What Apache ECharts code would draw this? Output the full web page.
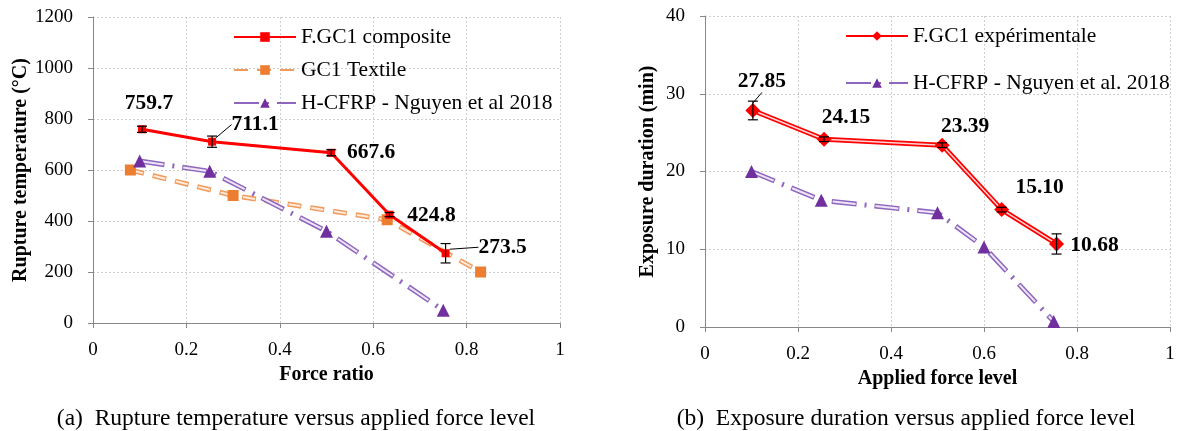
<!DOCTYPE html>
<html>
<head>
<meta charset="utf-8">
<script src="https://cdn.jsdelivr.net/npm/echarts@6/dist/echarts.min.js"></script>
<style>
  html, body { margin: 0; padding: 0; background: #fff; }
  #chart { width: 1183px; height: 431px; }
</style>
</head>
<body>
<div id="chart"></div>
<script>
// (a) rupture temperature vs force ratio
const compForce = [0.105, 0.255, 0.51, 0.635, 0.755];
const compTemp = [759.7, 711.1, 667.6, 424.8, 273.5];
const compErr = [12, 22, 12, 8, 38];
const textileForce = [0.08, 0.30, 0.63, 0.83];
const textileTemp = [600, 500, 405, 200];
const cfrpForceA = [0.10, 0.25, 0.50, 0.75];
const cfrpTemp = [635, 595, 360, 50];

// (b) exposure duration vs applied force level
const expForce = [0.103, 0.256, 0.51, 0.638, 0.756];
const expTime = [27.85, 24.15, 23.39, 15.10, 10.68];
const expErr = [1.2, 0.3, 0.3, 0.3, 1.3];
const cfrpForceB = [0.10, 0.25, 0.50, 0.60, 0.75];
const cfrpTime = [20.0, 16.3, 14.7, 10.3, 0.7];

const SERIF = "'Liberation Serif', 'Times New Roman', serif";

// label offsets (px, from the point) and which ones get a leader line
const compLabelPos = [[7, -26], [43, -17], [40, 0], [42, 1], [57, -6]];
const compLeader = [false, true, false, false, true];
const expLabelPos = [[9, -29], [22, -22], [23, -19], [38, -22], [38, 1]];
const expLeader = [true, false, false, false, false];

const zip = (xs, ys) => xs.map((x, i) => [x, ys[i]]);

function labelled(xs, ys, leaders, digits) {
  return xs.map((x, i) => ({
    value: [x, ys[i]],
    label: { formatter: ys[i].toFixed(digits) },
    labelLine: { show: leaders[i], length2: 0, lineStyle: { color: '#000', width: 1 } }
  }));
}

function errorBar(params, api) {
  const x = api.value(0);
  const lo = api.coord([x, api.value(1)]);
  const hi = api.coord([x, api.value(2)]);
  const w = 5;
  const st = { stroke: '#000', lineWidth: 1.2 };
  return {
    type: 'group',
    children: [
      { type: 'line', shape: { x1: lo[0], y1: lo[1], x2: hi[0], y2: hi[1] }, style: st },
      { type: 'line', shape: { x1: lo[0] - w, y1: lo[1], x2: lo[0] + w, y2: lo[1] }, style: st },
      { type: 'line', shape: { x1: hi[0] - w, y1: hi[1], x2: hi[0] + w, y2: hi[1] }, style: st }
    ]
  };
}

const tickText = { fontFamily: SERIF, fontSize: 19, color: '#000' };
const nameText = { fontFamily: SERIF, fontSize: 20, fontWeight: 'bold', color: '#000' };
const dataLabel = {
  show: true, position: 'inside', fontFamily: SERIF, fontSize: 21.5,
  fontWeight: 'bold', color: '#000'
};
const legendText = { fontFamily: SERIF, fontSize: 21.5, color: '#000' };
const captionText = { fontFamily: SERIF, fontSize: 23.5, fontWeight: 'normal', color: '#000' };

function xAxisFor(gridIndex, name) {
  return {
    type: 'value', gridIndex, min: 0, max: 1, interval: 0.2,
    name, nameLocation: 'middle', nameGap: 39, nameTextStyle: nameText,
    axisLine: { show: true, lineStyle: { color: '#888', width: 1 } },
    axisTick: { show: true, length: 5, lineStyle: { color: '#888' } },
    axisLabel: Object.assign({ margin: 18, formatter: v => String(v) }, tickText),
    splitLine: { show: true, lineStyle: { color: '#cfcfcf', type: [2, 2] } }
  };
}

function yAxisFor(gridIndex, name, max, interval, gap) {
  return {
    type: 'value', gridIndex, min: 0, max, interval,
    name, nameLocation: 'middle', nameGap: gap, nameTextStyle: nameText,
    axisLine: { show: true, lineStyle: { color: '#888', width: 1 } },
    axisTick: { show: true, length: 5, lineStyle: { color: '#888' } },
    axisLabel: Object.assign({ margin: 20, formatter: v => String(v) }, tickText),
    splitLine: { show: true, lineStyle: { color: '#cfcfcf', type: [2, 2] } }
  };
}

const chart = echarts.init(document.getElementById('chart'), null, { renderer: 'canvas' });

const option = {
  backgroundColor: '#fff',
  animation: false,
  title: [
    {
      text: '(a)  Rupture temperature versus applied force level',
      left: 291, top: 402, textAlign: 'center', textStyle: captionText
    },
    {
      text: '(b)  Exposure duration versus applied force level',
      left: 901, top: 402, textAlign: 'center', textStyle: captionText
    }
  ],
  grid: [
    { left: 93, top: 17, width: 467, height: 306 },
    { left: 705, top: 16, width: 465, height: 311 }
  ],
  legend: [
    {
      data: ['F.GC1 composite', 'GC1 Textile', 'H-CFRP - Nguyen et al 2018'],
      orient: 'vertical', left: 228, top: 21,
      itemWidth: 62, itemHeight: 12, itemGap: 11,
      textStyle: legendText
    },
    {
      data: ['F.GC1 expérimentale', 'H-CFRP - Nguyen et al. 2018'],
      orient: 'vertical', left: 840, top: 20,
      itemWidth: 62, itemHeight: 12, itemGap: 25,
      textStyle: legendText
    }
  ],
  xAxis: [
    xAxisFor(0, 'Force ratio'),
    xAxisFor(1, 'Applied force level')
  ],
  yAxis: [
    yAxisFor(0, 'Rupture temperature (°C)', 1200, 200, 60),
    yAxisFor(1, 'Exposure duration (min)', 40, 10, 47)
  ],
  series: [
    // ---- (a) ----
    {
      name: 'GC1 Textile', type: 'line', xAxisIndex: 0, yAxisIndex: 0,
      data: zip(textileForce, textileTemp),
      symbol: 'rect', symbolSize: 11, itemStyle: { color: '#ED7D31' },
      lineStyle: { color: '#F09A5C', width: 5, type: [14, 9] }, z: 2
    },
    {
      name: 'textile-inner', type: 'line', xAxisIndex: 0, yAxisIndex: 0,
      data: zip(textileForce, textileTemp), symbol: 'none', silent: true,
      lineStyle: { color: '#FDEADB', width: 2, type: [0, 1, 12, 10] }, z: 2
    },
    {
      name: 'H-CFRP - Nguyen et al 2018', type: 'line', xAxisIndex: 0, yAxisIndex: 0,
      data: zip(cfrpForceA, cfrpTemp),
      symbol: 'triangle', symbolSize: 13, itemStyle: { color: '#7030A0' },
      lineStyle: { color: '#8E66BE', width: 5, type: [25, 8, 2, 8] }, z: 3
    },
    {
      name: 'cfrpA-inner', type: 'line', xAxisIndex: 0, yAxisIndex: 0,
      data: zip(cfrpForceA, cfrpTemp), symbol: 'none', silent: true,
      lineStyle: { color: '#EEE6F6', width: 2, type: [0, 1, 23, 19] }, z: 3
    },
    {
      name: 'F.GC1 composite', type: 'line', xAxisIndex: 0, yAxisIndex: 0,
      data: labelled(compForce, compTemp, compLeader, 1),
      symbol: 'rect', symbolSize: 8, itemStyle: { color: '#FF0000' },
      lineStyle: { color: '#FF0000', width: 3 },
      label: dataLabel,
      labelLayout: p => ({ dx: compLabelPos[p.dataIndex][0], dy: compLabelPos[p.dataIndex][1] }),
      z: 4
    },
    {
      name: 'comp-err', type: 'custom', xAxisIndex: 0, yAxisIndex: 0,
      data: compForce.map((x, i) => [x, compTemp[i] - compErr[i], compTemp[i] + compErr[i]]),
      renderItem: errorBar, z: 5, silent: true
    },
    // ---- (b) ----
    {
      name: 'H-CFRP - Nguyen et al. 2018', type: 'line', xAxisIndex: 1, yAxisIndex: 1,
      data: zip(cfrpForceB, cfrpTime),
      symbol: 'triangle', symbolSize: 13, itemStyle: { color: '#7030A0' },
      lineStyle: { color: '#8E66BE', width: 5, type: [25, 8, 2, 8] }, z: 3
    },
    {
      name: 'cfrpB-inner', type: 'line', xAxisIndex: 1, yAxisIndex: 1,
      data: zip(cfrpForceB, cfrpTime), symbol: 'none', silent: true,
      lineStyle: { color: '#EEE6F6', width: 2, type: [0, 1, 23, 19] }, z: 3
    },
    {
      name: 'F.GC1 expérimentale', type: 'line', xAxisIndex: 1, yAxisIndex: 1,
      data: labelled(expForce, expTime, expLeader, 2),
      symbol: 'diamond', symbolSize: 15, itemStyle: { color: '#FF0000' },
      lineStyle: { color: '#FF0000', width: 5 },
      label: dataLabel,
      labelLayout: p => ({ dx: expLabelPos[p.dataIndex][0], dy: expLabelPos[p.dataIndex][1] }),
      z: 4
    },
    {
      name: 'exp-inner', type: 'line', xAxisIndex: 1, yAxisIndex: 1,
      data: zip(expForce, expTime), symbol: 'none', silent: true,
      lineStyle: { color: '#FFD4D4', width: 1.5 }, z: 4
    },
    {
      name: 'exp-err', type: 'custom', xAxisIndex: 1, yAxisIndex: 1,
      data: expForce.map((x, i) => [x, expTime[i] - expErr[i], expTime[i] + expErr[i]]),
      renderItem: errorBar, z: 5, silent: true
    }
  ]
};

chart.setOption(option);
</script>
</body>
</html>
